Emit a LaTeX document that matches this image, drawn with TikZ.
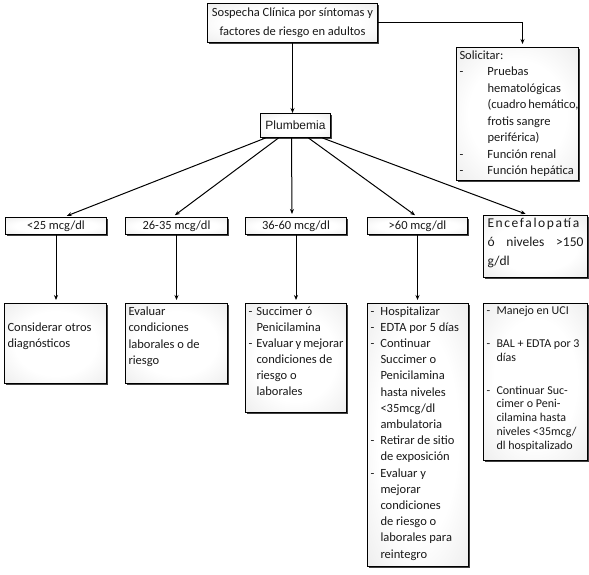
\documentclass[tikz,border=0pt]{standalone}
\usepackage{fontspec}
\setmainfont{Carlito}
\newfontfamily\arialfont{Liberation Sans}
\usetikzlibrary{positioning,arrows.meta,shadows}

\pgfdeclareradialshading{caja}{\pgfpoint{0bp}{0bp}}{color(0bp)=(white); color(20bp)=(white); color(50bp)=(black!13); color(72bp)=(black!18)}

\newcommand{\itm}[2][10pt]{\par\hangindent=#1\hangafter=1\noindent\makebox[#1][l]{-}#2}
\newcommand{\bx}[3]{\parbox[c][#2][t]{#1}{#3}}

\begin{document}
\begin{tikzpicture}[x=1pt,y=-1pt]
          \tikzset{box/.style={draw, line width=1pt, anchor=north west, inner sep=3pt,
              shade, shading=caja,
              drop shadow={shadow xshift=1.6pt, shadow yshift=-1.6pt, fill=black!75, opacity=1},
              font=\fontsize{12.5}{16.5}\selectfont, text=black!90}}
          \tikzset{rango/.style={box, inner sep=0pt, minimum height=17pt}}
          \tikzset{flecha/.style={-{Stealth[length=5pt,width=4pt]}, line width=1pt, shorten >=3pt}}

          \useasboundingbox (0,0) rectangle (589,575);

          \node[box] (sosp) at (207,3) {\parbox[c][33pt][c]{164pt}{\centering\baselineskip=19pt
              Sospecha Clínica por síntomas y\\factores de riesgo en adultos}};
          \node[box, font=\arialfont\fontsize{12}{14}\selectfont, inner sep=0pt,
              minimum width=70pt, minimum height=24pt] (plumb) at (260,113) {Plumbemia};
          \node[box] (sol) at (456,47) {\bx{116pt}{127pt}{Solicitar:%
              \itm[28pt]{Pruebas\\hematológicas\\(cuadro~hemático,\\frotis sangre\\periférica)}%
              \itm[28pt]{Función renal}\itm[28pt]{Función hepática}}};

          \node[rango, minimum width=101pt] (r1) at (5,217) {<25 mcg/dl};
          \node[rango, minimum width=102pt] (r2) at (125,217) {26-35 mcg/dl};
          \node[rango, minimum width=101pt] (r3) at (245,217) {36-60 mcg/dl};
          \node[rango, minimum width=100pt] (r4) at (367,217) {>60 mcg/dl};
          \node[box, inner xsep=4pt] (r5) at (483,215) {\bx{96pt}{56pt}{\fontsize{13.5}{19}\selectfont
              {\addfontfeature{LetterSpace=12}Encefalopatía}\\
              \makebox[\linewidth][s]{ó niveles >150}\\g/dl}};

          \node[box] (s1) at (4,303) {\bx{96pt}{74pt}{\vspace*{16pt}Considerar otros\\diagnósticos}};
          \node[box] (s2) at (125,303) {\bx{96pt}{74pt}{Evaluar\\condiciones\\laborales o de\\riesgo}};
          \node[box] (s3) at (245,303) {\bx{95pt}{103pt}{\baselineskip=16pt
              \itm[8pt]{Succimer ó\\Penicilamina}%
              \itm[8pt]{Evaluar~y~mejorar\\condiciones de\\riesgo o\\laborales}}};
          \node[box] (s4) at (367,303) {\bx{95pt}{257pt}{\baselineskip=16.2pt
              \itm{Hospitalizar}\itm{EDTA~por~5~días}%
              \itm{Continuar\\Succimer o\\Penicilamina\\hasta niveles\\<35mcg/dl\\ambulatoria}%
              \itm{Retirar de sitio\\de exposición}%
              \itm{Evaluar y\\mejorar\\condiciones\\de riesgo o\\laborales para\\reintegro}}};
          \node[box] (s5) at (483,303) {\bx{98pt}{151pt}{\fontsize{12}{13.8}\selectfont\parskip=19pt
              \itm{Manejo en UCI}\itm{BAL~+~EDTA~por~3\\días}%
              \itm{Continuar Suc-\\cimer o Peni-\\cilamina hasta\\niveles~<35mcg/\\dl hospitalizado}}};

          \draw[flecha, shorten >=0pt] (sosp.south) -- (sosp.south |- plumb.north);
          \draw[flecha] (sosp.east) -| ([xshift=5pt]sol.north);

          \foreach \d/\n/\e in {-30/r1/8, -17/r2/-4, -4/r3/-4, 13/r4/0, 27/r5/-7}
            \draw[flecha] ([xshift=\d pt]plumb.south) -- ([xshift=\e pt]\n.north);

          \foreach \a/\b in {r1/s1, r2/s2, r3/s3, r4/s4}
            \draw[flecha] (\a.south) -- (\a.south |- \b.north);
        \end{tikzpicture}
\end{document}
